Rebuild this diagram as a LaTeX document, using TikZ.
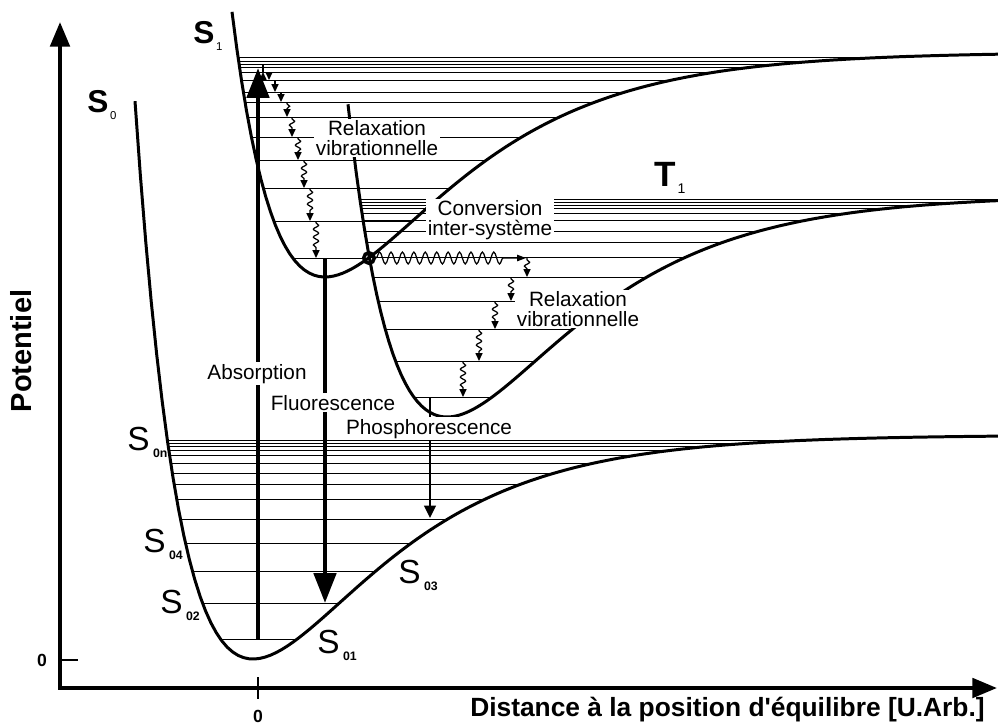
\documentclass[tikz,border=0pt]{standalone}
\usepackage{fontspec}
\setmainfont{Liberation Sans}[Ligatures=TeXOff]
\usetikzlibrary{arrows.meta,decorations.pathmorphing,positioning}

% Morse potential: x, x0, a, depth
\pgfmathdeclarefunction{morse}{4}{%
  \pgfmathparse{#4*(1-exp(-#3*(#1-#2)))*(1-exp(-#3*(#1-#2)))}%
}
\newcommand\lowsub[1]{\hspace{2pt}\raisebox{-4pt}{\fontsize{7}{7}\selectfont\bfseries #1}}
\newcommand\statesub[2][6.5]{\hspace{1pt}\raisebox{-4pt}{\fontsize{#1}{#1}\selectfont\mdseries #2}}

\begin{document}
\begin{tikzpicture}[
    x=0.02cm, y=-0.02cm,
    curve/.style={line width=1.7pt, line join=round},
    level/.style={line width=0.55pt},
    axis/.style={line width=2.3pt, {Triangle[length=14pt,width=11pt]}-{Triangle[length=14pt,width=11pt]}},
    bigarrow/.style={line width=2.8pt, -{Triangle[length=17pt,width=12.5pt]}},
    thinarrow/.style={line width=1.4pt, -{Triangle[length=7pt,width=6.5pt]}},
    relax/.style={line width=0.7pt, -{Triangle[length=4.5pt,width=4pt]}, decorate,
        decoration={snake, amplitude=1.5pt, segment length=4.5pt, pre length=1pt, post length=4.5pt}},
    iscwave/.style={line width=0.7pt, -{Triangle[length=5pt,width=3.6pt]}, decorate,
        decoration={snake, amplitude=3.4pt, segment length=6.5pt, post length=11pt}},
    lbl/.style={fill=white, inner sep=1pt, align=center, font=\fontsize{11.8}{11}\selectfont},
    state/.style={inner sep=0pt, anchor=base west, font=\fontsize{18}{18}\selectfont\bfseries},
    vib/.style={inner sep=0pt, anchor=base west, font=\fontsize{19}{19}\selectfont},
    tick/.style={line width=1.4pt},
    ticklbl/.style={font=\fontsize{10}{10}\selectfont\bfseries},
    axislbl/.style={inner sep=0pt, font=\fontsize{15}{15}\selectfont\bfseries}
]
    \useasboundingbox (0,0) rectangle (998,725);

    % vibrational levels, cut at the walls of each well
    \begin{scope}
        \clip plot[domain=135:998, samples=160] (\x,{659-morse(\x,253,0.00802,224)}) -- (998,0) -- (135,0) -- cycle;
        \foreach \y in {440,443,446,450,455,463,473,484,499,519,543,571,603,639}
            \draw[level] (100,\y) -- (998,\y);
    \end{scope}
    \begin{scope}
        \clip plot[domain=232:998, samples=160] (\x,{277-morse(\x,325,0.0079,225)}) -- (998,0) -- (232,0) -- cycle;
        \foreach \y in {57,61,64,67,72,80,92,102,117,137,160,188,221,258}
            \draw[level] (200,\y) -- (998,\y);
    \end{scope}
    \begin{scope}
        \clip plot[domain=348:998, samples=160] (\x,{417-morse(\x,447,0.0079,222)}) -- (998,0) -- (348,0) -- cycle;
        \foreach \y in {199,202,205,208,213,220,231,242,257,277,301,329,361,397}
            \draw[level] (300,\y) -- (998,\y);
    \end{scope}

    % potential curves
    \draw[curve] plot[domain=135:998, samples=160] (\x,{659-morse(\x,253,0.00802,224)});
    \draw[curve] plot[domain=232:998, samples=160] (\x,{277-morse(\x,325,0.0079,225)});
    \draw[curve] plot[domain=348:998, samples=160] (\x,{417-morse(\x,447,0.0079,222)});

    % axes
    \coordinate (origin) at (60,688);
    \coordinate (ytip) at (60,22);
    \coordinate (xtip) at (997,688);
    \draw[axis] (ytip) -- (origin) -- (xtip);
    \coordinate (yt0) at (60,660);
    \coordinate (yt1) at (78,660);
    \draw[tick] (yt0) -- (yt1);
    \coordinate (xt0) at (258,677);
    \coordinate (xt1) at (258,699);
    \draw[tick] (xt0) -- (xt1);
    \node[ticklbl] (yzero) at (42,660) {0};
    \node[ticklbl] (xzero) at (258,716) {0};
    \node[axislbl, rotate=90, font=\fontsize{16.5}{16.5}\selectfont\bfseries] (ylab) at (21,351) {Potentiel};
    \node[axislbl, anchor=base east] (xlab) at (985,716) {Distance à la position d'équilibre [U.Arb.]};

    % radiative transitions
    \coordinate (absfrom) at (258,639);
    \coordinate (absto) at (258,68);
    \coordinate (fluofrom) at (325,258);
    \coordinate (fluoto) at (325,603);
    \coordinate (phosfrom) at (430,397);
    \coordinate (phosto) at (430,518);
    \draw[bigarrow] (absfrom) -- (absto);
    \draw[bigarrow] (fluofrom) -- (fluoto);
    \draw[thinarrow] (phosfrom) -- (phosto);

    % non-radiative steps
    \foreach \x/\ya/\yb [count=\i] in {263/67/72,269/72/80,275/80/92,281/92/102,287/102/117,
            292/117/137,298/137/160,304/160/188,310/188/221,316/221/258} {
        \coordinate (sa\i) at (\x,\ya);
        \coordinate (sb\i) at (\x,\yb);
        \draw[relax] (sa\i) -- (sb\i);
    }
    \foreach \x/\ya/\yb [count=\i] in {527/258/277,511/277/301,495/301/329,479/329/361,463/361/397} {
        \coordinate (ta\i) at (\x,\ya);
        \coordinate (tb\i) at (\x,\yb);
        \draw[relax] (ta\i) -- (tb\i);
    }
    \node[circle, draw, line width=2pt, inner sep=0pt, minimum size=6pt] (cross) at (369,258) {};
    \coordinate (iscend) at (526,258);
    \draw[iscwave] (cross.east) -- (iscend);

    % labels
    \node[lbl] (relaxs) at (377,138) {Relaxation\\vibrationnelle};
    \node[lbl] (relaxt) at (578,309) {Relaxation\\vibrationnelle};
    \node[lbl] (iscl) at (490,220) {Conversion\\inter-système};
    \node[lbl, anchor=base] (absl) at (257,379) {Absorption};
    \node[lbl, anchor=base] (fluol) at (333,410) {Fluorescence};
    \node[lbl, anchor=base] (phosl) at (429,434) {Phosphorescence};

    \node[state] (szero) at (87,112) {S\statesub{0}};
    \node[state] (sone) at (193,43) {S\statesub{1}};
    \node[state, font=\fontsize{20}{20}\selectfont\bfseries] (tone) at (654,186) {T\statesub[8]{1}};

    \node[vib] (s0n) at (127,450) {S\lowsub{0n}};
    \node[vib] (s04) at (143,552) {S\lowsub{04}};
    \node[vib] (s02) at (160,613) {S\lowsub{02}};
    \node[vib] (s01) at (317,653) {S\lowsub{01}};
    \node[vib] (s03) at (398,583) {S\lowsub{03}};
\end{tikzpicture}
\end{document}
